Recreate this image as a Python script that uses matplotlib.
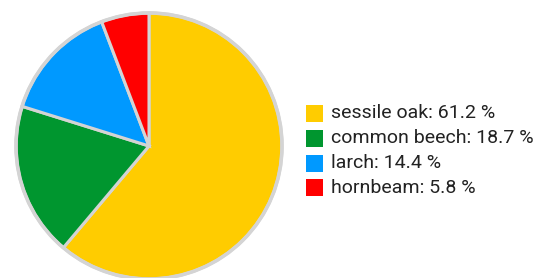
import matplotlib.pyplot as plt
from matplotlib.patches import Circle, Rectangle

species = ['sessile oak', 'common beech', 'larch', 'hornbeam']
shares = [61.2, 18.7, 14.4, 5.8]
colors = ['#FFCC00', '#00962F', '#0099FF', '#FF0000']

plt.rcParams['font.family'] = ['Roboto', 'DejaVu Sans']

W, H = 539, 278
fig = plt.figure(figsize=(W / 100, H / 100), dpi=100)

# pie axes placed in pixel units
cx, cy, r = 149, 278 - 146, 133
pad = 138
ax = fig.add_axes([(cx - pad) / W, (cy - pad) / H, 2 * pad / W, 2 * pad / H])
ax.pie(shares, colors=colors, startangle=90, counterclock=False, radius=1,
       wedgeprops=dict(edgecolor='#d4d4d4', linewidth=2.2))
ax.add_patch(Circle((0, 0), 1, fill=False, edgecolor='#d4d4d4', linewidth=2.6))
ax.set_xlim(-pad / r, pad / r)
ax.set_ylim(-pad / r, pad / r)
ax.set_aspect('equal')
ax.axis('off')

# legend drawn by hand
y0 = 113.5
for i, (name, val, col) in enumerate(zip(species, shares, colors)):
    y = H - (y0 + i * 24.8)
    fig.patches.append(Rectangle((306 / W, (y - 8.5) / H), 17 / W, 17 / H,
                                 facecolor=col, edgecolor='none',
                                 transform=fig.transFigure, figure=fig))
    fig.text(331 / W, y / H, f'{name}: {val} %', fontsize=14,
             va='center', ha='left', color='#222222')

fig.savefig('out.png', dpi=100)
